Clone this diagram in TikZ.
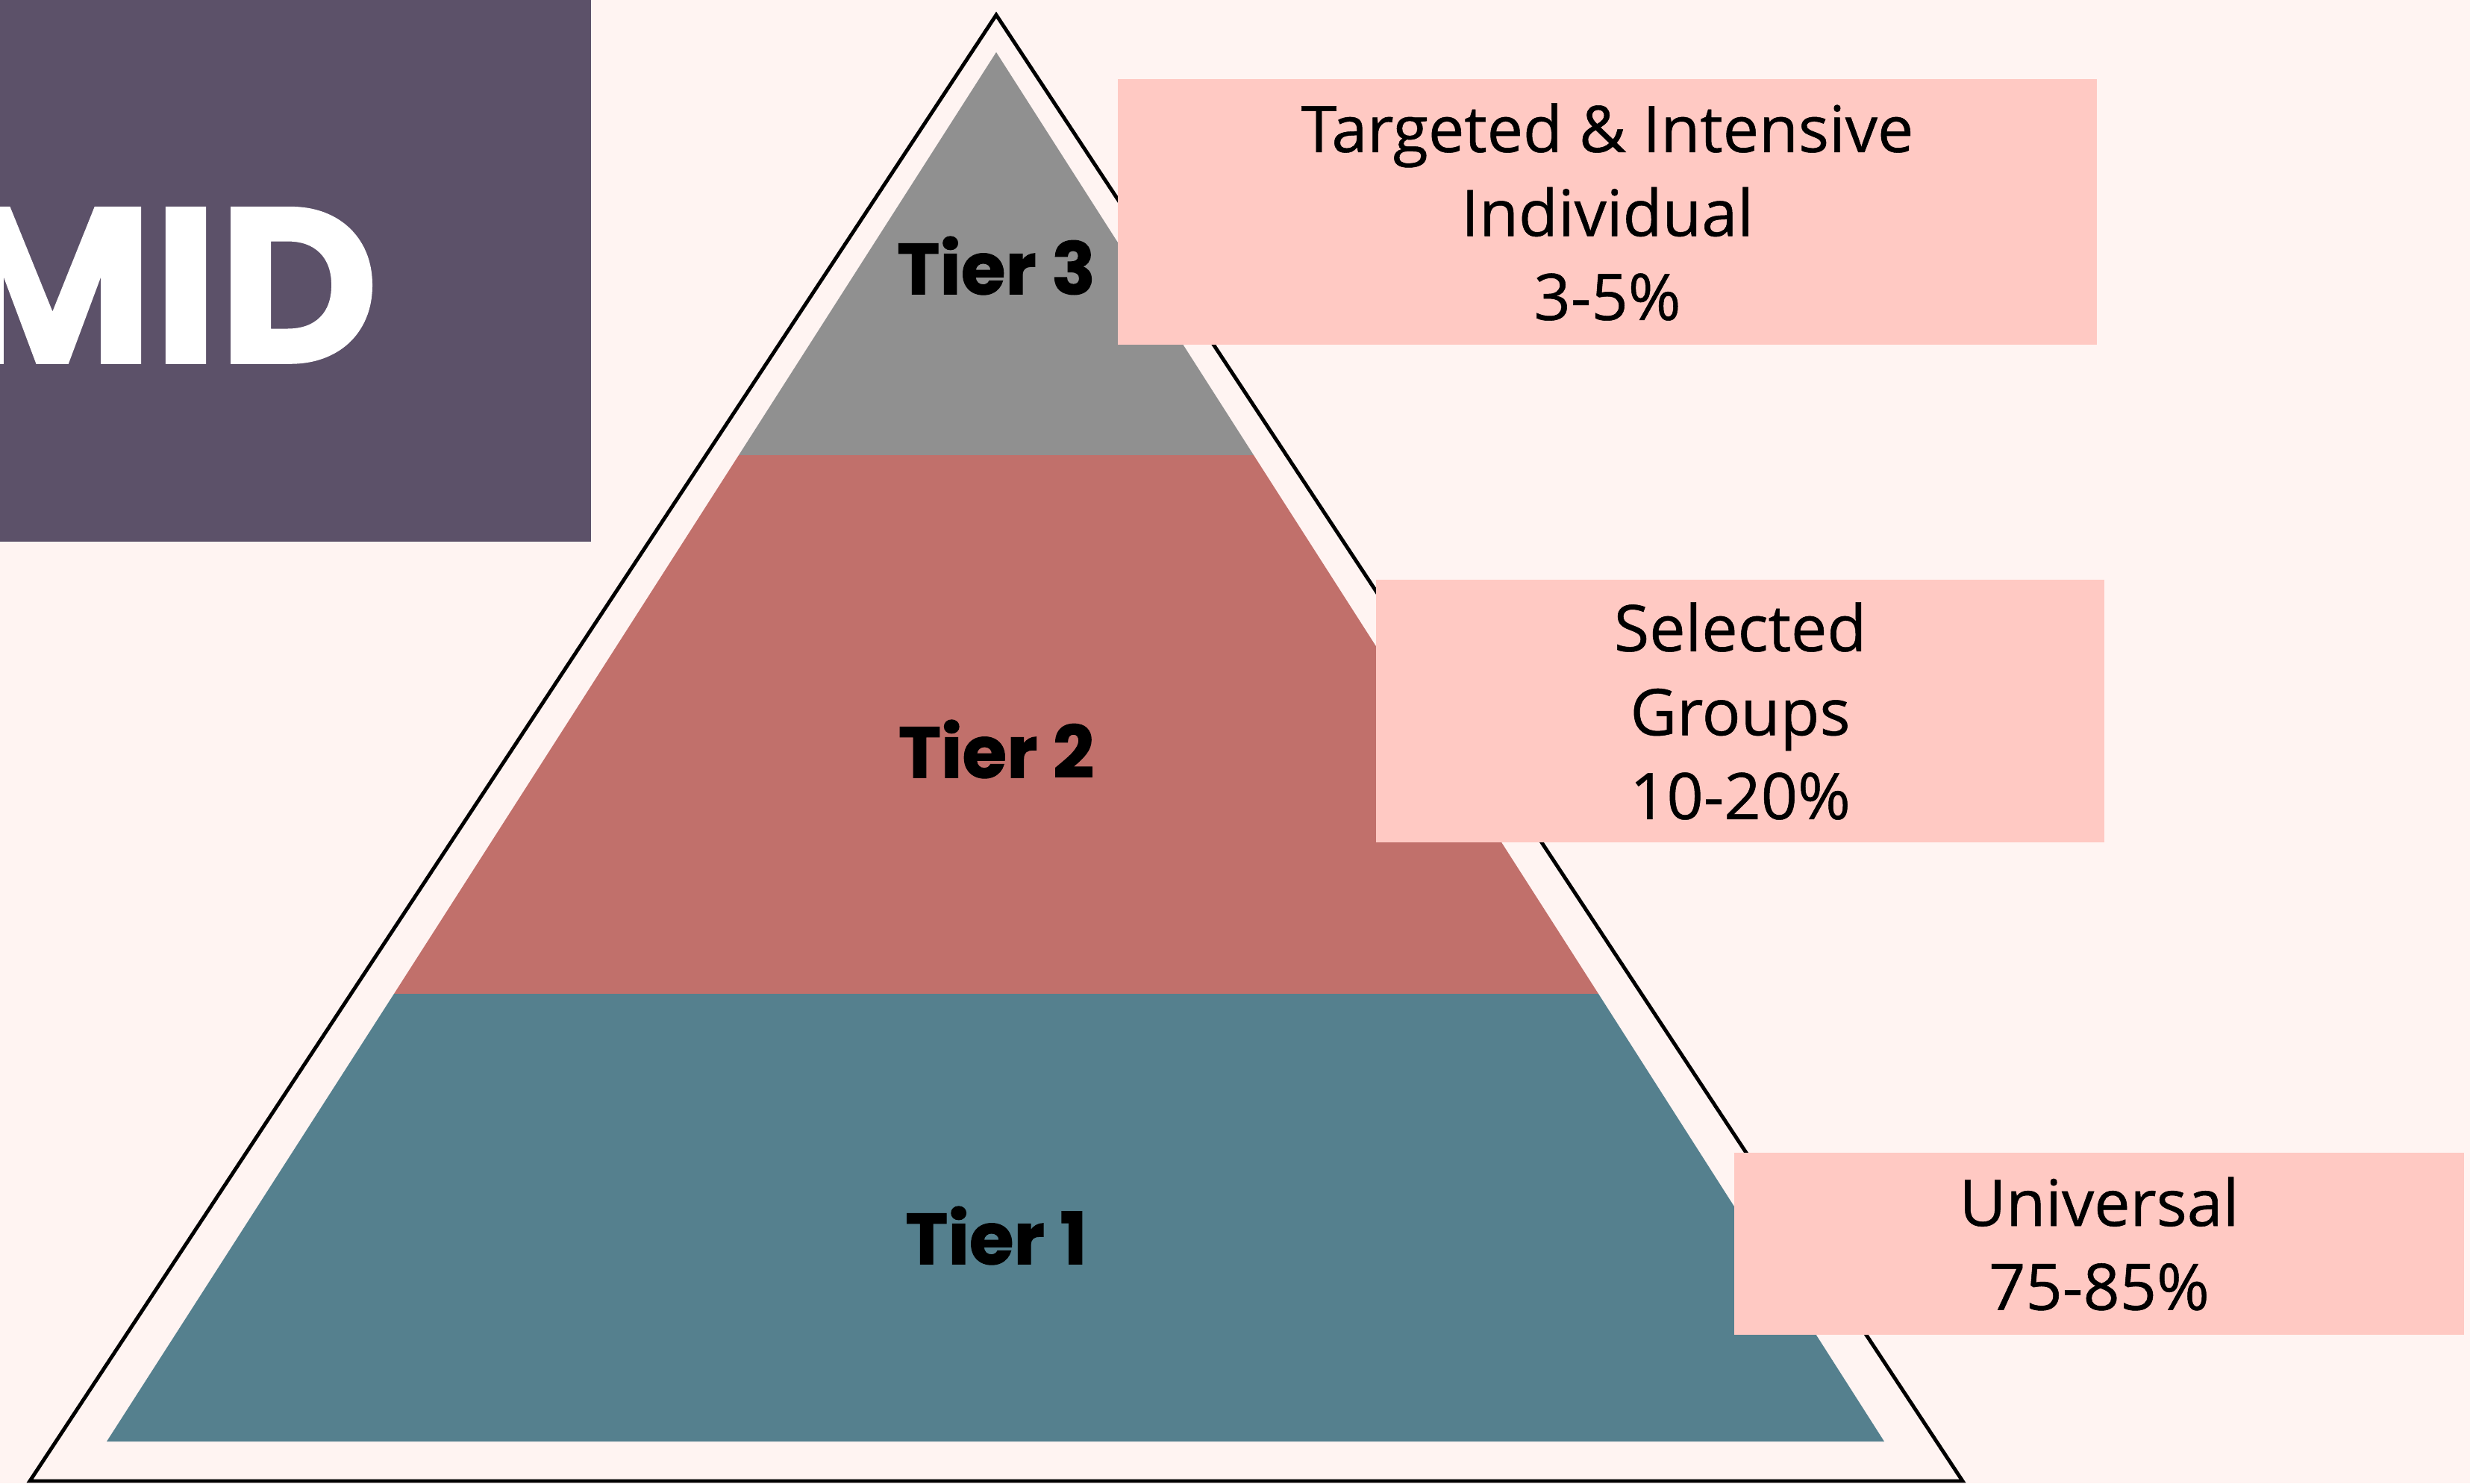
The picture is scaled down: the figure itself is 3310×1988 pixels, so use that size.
\documentclass[tikz,border=0pt]{standalone}
\usepackage{fontspec}
\setmainfont{Open Sans}[FakeBold=0.6]
\newfontfamily\heavyfont{Poppins}[BoldFeatures={FakeBold=1.2}]
\usepackage{tikz}
\usetikzlibrary{positioning}
\definecolor{bgpink}{HTML}{FFF4F2}
\definecolor{plum}{HTML}{5C5169}
\definecolor{tierthreegray}{HTML}{909090}
\definecolor{tiertwored}{HTML}{C1706B}
\definecolor{tieroneteal}{HTML}{55808E}
\definecolor{labelpink}{HTML}{FFC9C3}
\tikzset{
  tierlabel/.style={inner sep=0pt, font=\heavyfont\bfseries\fontsize{27.5}{30}\selectfont},
  sharebox/.style={fill=labelpink, inner sep=0pt, align=center, font=\fontsize{24.5}{32}\selectfont}
}

\begin{document}
\begin{tikzpicture}[x=0.01cm, y=-0.01cm]
	\path[use as bounding box, fill=bgpink] (0,0) rectangle (3310,1988);
	\fill[plum] (0,0) rectangle (792,726);
	\node[anchor=base east, inner sep=0pt, text=white, font=\heavyfont\bfseries\fontsize{84}{90}\selectfont] (title) at (508,486) {MID};
	\draw[line width=1.4pt] (1335,20) -- (40,1985) -- (2630,1985) -- cycle;
	\fill[tierthreegray] (1335,70) -- (990,610) -- (1680,610) -- cycle;
	\fill[tiertwored] (990,610) -- (528,1332) -- (2142,1332) -- (1680,610) -- cycle;
	\fill[tieroneteal] (528,1332) -- (143,1932) -- (2525,1932) -- (2142,1332) -- cycle;
	\node[tierlabel] (tier3) at (1335,356) {Tier 3};
	\node[tierlabel] (tier2) at (1335,1004) {Tier 2};
	\node[tierlabel] (tier1) at (1335,1656) {Tier 1};
	\node[sharebox, minimum width=13.11cm, minimum height=3.56cm] (intensive) at (2154,284) {Targeted \& Intensive\\Individual\\3-5\%};
	\node[sharebox, minimum width=9.75cm, minimum height=3.52cm] (selected) at (2332,953) {Selected\\Groups\\10-20\%};
	\node[sharebox, minimum width=9.77cm, minimum height=2.44cm] (universal) at (2813,1667) {Universal\\75-85\%};
\end{tikzpicture}
\end{document}
